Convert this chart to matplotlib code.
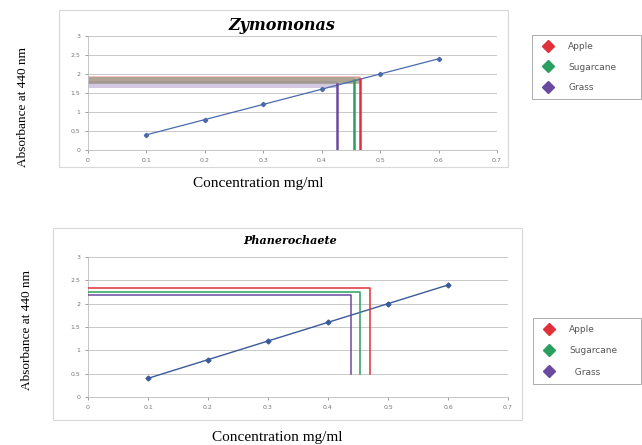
import matplotlib.pyplot as plt
from matplotlib.patches import Rectangle
from matplotlib.lines import Line2D

# Standard curve (same for both panels)
conc = [0.1, 0.2, 0.3, 0.4, 0.5, 0.6]
absorbance = [0.4, 0.8, 1.2, 1.6, 2.0, 2.4]

samples = ['Apple', 'Sugarcane', 'Grass']
sample_colors = ['#e0303a', '#2aa060', '#6a4aa0']

# Zymomonas: sample concentration / absorbance
zymo_conc = [0.465, 0.455, 0.426]
zymo_abs = [1.87, 1.84, 1.74]

# Phanerochaete
phan_conc = [0.47, 0.454, 0.439]
phan_abs = [2.33, 2.25, 2.18]
phan_base = 0.5

xticks = [0, 0.1, 0.2, 0.3, 0.4, 0.5, 0.6, 0.7]
yticks = [0, 0.5, 1, 1.5, 2, 2.5, 3]

W, H = 642, 445
fig = plt.figure(figsize=(W / 100, H / 100), dpi=100)


def fx(px):
    return px / W


def fy(py):
    return 1 - py / H


def style_axes(ax):
    ax.set_xlim(0, 0.7)
    ax.set_ylim(0, 3)
    ax.set_xticks(xticks)
    ax.set_yticks(yticks)
    ax.set_xticklabels([str(t) for t in xticks])
    ax.set_yticklabels([str(t) for t in yticks])
    ax.tick_params(labelsize=4.5, colors='#777777', length=2, width=0.5)
    ax.grid(axis='y', color='#c8c8c8', linewidth=0.7)
    ax.set_axisbelow(True)
    for s in ['top', 'right']:
        ax.spines[s].set_visible(False)
    for s in ['left', 'bottom']:
        ax.spines[s].set_color('#bbbbbb')
        ax.spines[s].set_linewidth(0.6)


# chart area frames
fig.patches.append(Rectangle((fx(59), fy(167)), fx(508 - 59), (167 - 10) / H,
                             transform=fig.transFigure, fill=False,
                             edgecolor='#d8d8d8', linewidth=0.8))
fig.patches.append(Rectangle((fx(53), fy(420)), fx(522 - 53), (420 - 228) / H,
                             transform=fig.transFigure, fill=False,
                             edgecolor='#d8d8d8', linewidth=0.8))

# top panel
ax1 = fig.add_axes([fx(88), fy(150), fx(497 - 88), (150 - 36) / H])
style_axes(ax1)
for x, y, c in zip(zymo_conc, zymo_abs, sample_colors):
    ax1.plot([0, x], [y, y], color=c, linewidth=5, alpha=0.3,
             solid_capstyle='butt')
ax1.plot([0, zymo_conc[0]], [1.84, 1.84], color='#a89888', linewidth=5,
         alpha=0.6, solid_capstyle='butt')
ax1.plot(conc, absorbance, color='#4a6aaa', linewidth=0.9, marker='D',
         markersize=2.2, zorder=3)
for x, y, c in zip(zymo_conc, zymo_abs, sample_colors):
    ax1.plot([x, x], [0, y], color=c, linewidth=1.8, zorder=4)
fig.text(fx(282), fy(26), 'Zymomonas', family='DejaVu Serif',
         style='italic', weight='bold', fontsize=11.5, ha='center', va='center')
fig.text(fx(23), fy(107), 'Absorbance at 440 nm', family='Liberation Serif',
         fontsize=9.5, rotation=90, ha='center', va='center')
fig.text(fx(258), fy(184), 'Concentration mg/ml', family='Liberation Serif',
         fontsize=11, ha='center', va='center')

# bottom panel
ax2 = fig.add_axes([fx(88), fy(397), fx(508 - 88), (397 - 257) / H])
style_axes(ax2)
ax2.plot(conc, absorbance, color='#3a5a9a', linewidth=1.0, marker='D',
         markersize=2.5, zorder=3)
for x, y, c in zip(phan_conc, phan_abs, sample_colors):
    ax2.plot([0, x, x], [y, y, phan_base], color=c, linewidth=1.1, zorder=4)
fig.text(fx(290), fy(241), 'Phanerochaete', family='DejaVu Serif',
         style='italic', weight='bold', fontsize=8, ha='center', va='center')
fig.text(fx(27), fy(330), 'Absorbance at 440 nm', family='Liberation Serif',
         fontsize=9.5, rotation=90, ha='center', va='center')
fig.text(fx(277), fy(437), 'Concentration mg/ml', family='Liberation Serif',
         fontsize=11, ha='center', va='center')

# legends
handles = [Line2D([], [], linestyle='none', marker='D', markersize=6,
                  color=c) for c in sample_colors]
leg1 = fig.legend(handles, samples, loc='upper left', mode='expand',
                  bbox_to_anchor=(fx(532), fy(103), fx(641 - 532), 68 / H),
                  fontsize=6.5,
                  frameon=True, fancybox=False, edgecolor='#888888',
                  borderpad=0.8, labelspacing=1.25, handletextpad=1.2,
                  borderaxespad=0)
leg1.get_frame().set_linewidth(0.6)
for t in leg1.get_texts():
    t.set_color('#555555')
leg2 = fig.legend(handles, ['Apple', 'Sugarcane', '  Grass'], loc='upper left',
                  mode='expand',
                  bbox_to_anchor=(fx(533), fy(384), fx(641 - 533), 66 / H),
                  fontsize=6.5,
                  frameon=True, fancybox=False, edgecolor='#888888',
                  borderpad=0.8, labelspacing=1.35, handletextpad=1.2,
                  borderaxespad=0)
leg2.get_frame().set_linewidth(0.6)
for t in leg2.get_texts():
    t.set_color('#555555')

fig.savefig('out.png', dpi=100)
